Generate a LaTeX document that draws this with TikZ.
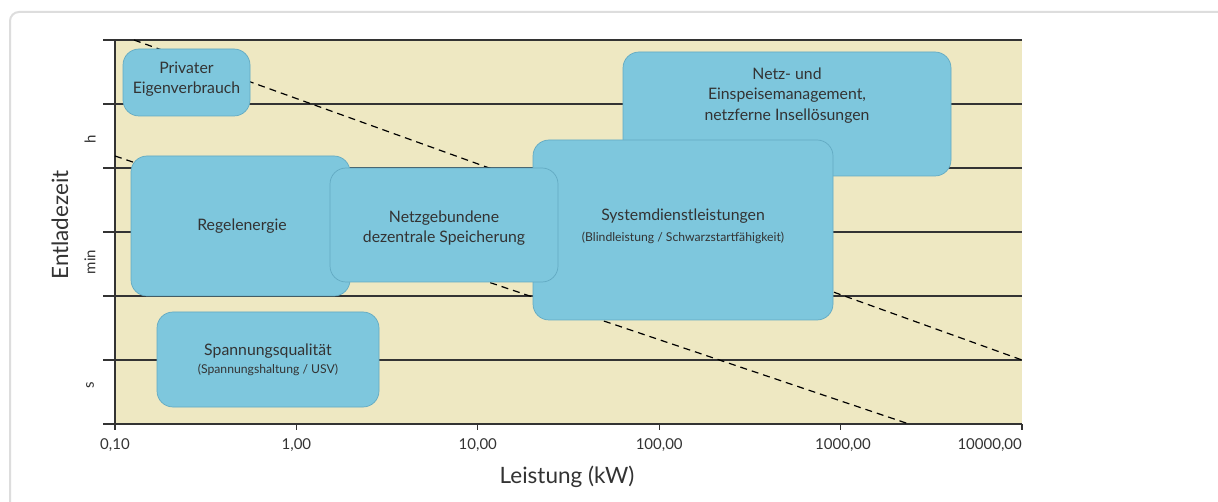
\documentclass[tikz,border=0pt]{standalone}
\usepackage{fontspec}
\setmainfont{Lato}
\definecolor{bgbeige}{HTML}{EEE8C2}
\definecolor{boxfill}{HTML}{7EC7DD}
\definecolor{boxedge}{HTML}{62AAC2}
\definecolor{inkgray}{HTML}{333333}
\definecolor{cardgray}{HTML}{DDDDDD}
\begin{document}
\begin{tikzpicture}[x=1pt,y=-1pt,
  gridline/.style={draw=inkgray,line width=1.3pt},
  dashline/.style={draw=black,line width=1.2pt,dash pattern=on 7pt off 5pt},
  blob/.style={draw=boxedge,fill=boxfill,line width=0.7pt,rounded corners=16pt,inner sep=0pt},
  boxtext/.style={text=inkgray,font=\fontsize{15.8}{20.5}\selectfont,align=center},
  subtext/.style={text=inkgray,font=\fontsize{12.2}{14}\selectfont},
  ticklabel/.style={text=inkgray,font=\fontsize{15}{17}\selectfont},
  axislabel/.style={text=inkgray,font=\fontsize{22.5}{26}\selectfont}]
\useasboundingbox (0,0) rectangle (1218,502);
\clip (0,0) rectangle (1218,502);
\fill[white] (0,0) rectangle (1218,502);
\draw[cardgray,line width=2pt,rounded corners=9pt] (10,12) rectangle (1260,540);
% plot background
\fill[bgbeige] (115,40) rectangle (1022,424);
% horizontal grid lines
\foreach \yy in {40,104,168,232,296,360,424}{
  \draw[gridline] (103,\yy) -- (1022,\yy);
}
% axis
\draw[gridline] (115,40) -- (115,430);
\foreach \xx in {296.4,477.8,659.2,840.6,1022}{
  \draw[gridline] (\xx,424) -- (\xx,430);
}
% dashed lines
\coordinate (d1a) at (134,40);
\coordinate (d1b) at (1022,360);
\coordinate (d2a) at (115,156);
\coordinate (d2b) at (909,424);
\draw[dashline] (d1a) -- (d1b);
\draw[dashline] (d2a) -- (d2b);
% boxes
\node[blob,minimum width=127pt,minimum height=67pt] (priv) at (186.5,82.5) {};
\node[boxtext] (privt) at (186.5,79) {Privater\\Eigenverbrauch};
\node[blob,minimum width=219pt,minimum height=140pt] (regel) at (240.5,226) {};
\node[boxtext] (regelt) at (242,226) {Regelenergie};
\node[blob,minimum width=328pt,minimum height=124pt] (netzm) at (787,114) {};
\node[boxtext] (netzmt) at (787,95.5) {Netz- und\\Einspeisemanagement,\\netzferne Insell\"osungen};
\node[blob,minimum width=300pt,minimum height=180pt] (sysd) at (683,230) {};
\node[boxtext] (sysdt) at (683,216) {Systemdienstleistungen};
\node[subtext] (sysds) at (683,238) {(Blindleistung / Schwarzstartf\"ahigkeit)};
\node[blob,minimum width=228pt,minimum height=114pt] (netzg) at (444,225) {};
\node[boxtext] (netzgt) at (444,228) {Netzgebundene\\dezentrale Speicherung};
\node[blob,minimum width=222pt,minimum height=95pt] (spann) at (268,359.5) {};
\node[boxtext] (spannt) at (268,351) {Spannungsqualit\"at};
\node[subtext] (spanns) at (268,370) {(Spannungshaltung / USV)};
% y labels
\node[ticklabel,rotate=90] (lh) at (90,139) {h};
\node[ticklabel,rotate=90] (lmin) at (90,262) {min};
\node[ticklabel,rotate=90] (ls) at (90,385) {s};
\node[axislabel,rotate=90] (ylab) at (60,225) {Entladezeit};
% x labels
\node[ticklabel] (x0) at (115,445) {0,10};
\node[ticklabel] (x1) at (296.4,445) {1,00};
\node[ticklabel] (x2) at (477.8,445) {10,00};
\node[ticklabel] (x3) at (659.2,445) {100,00};
\node[ticklabel] (x4) at (843,445) {1000,00};
\node[ticklabel,anchor=east,inner xsep=0pt] (x5) at (1022,445) {10000,00};
\node[axislabel] (xlab) at (567,477) {Leistung (kW)};
\end{tikzpicture}
\end{document}
